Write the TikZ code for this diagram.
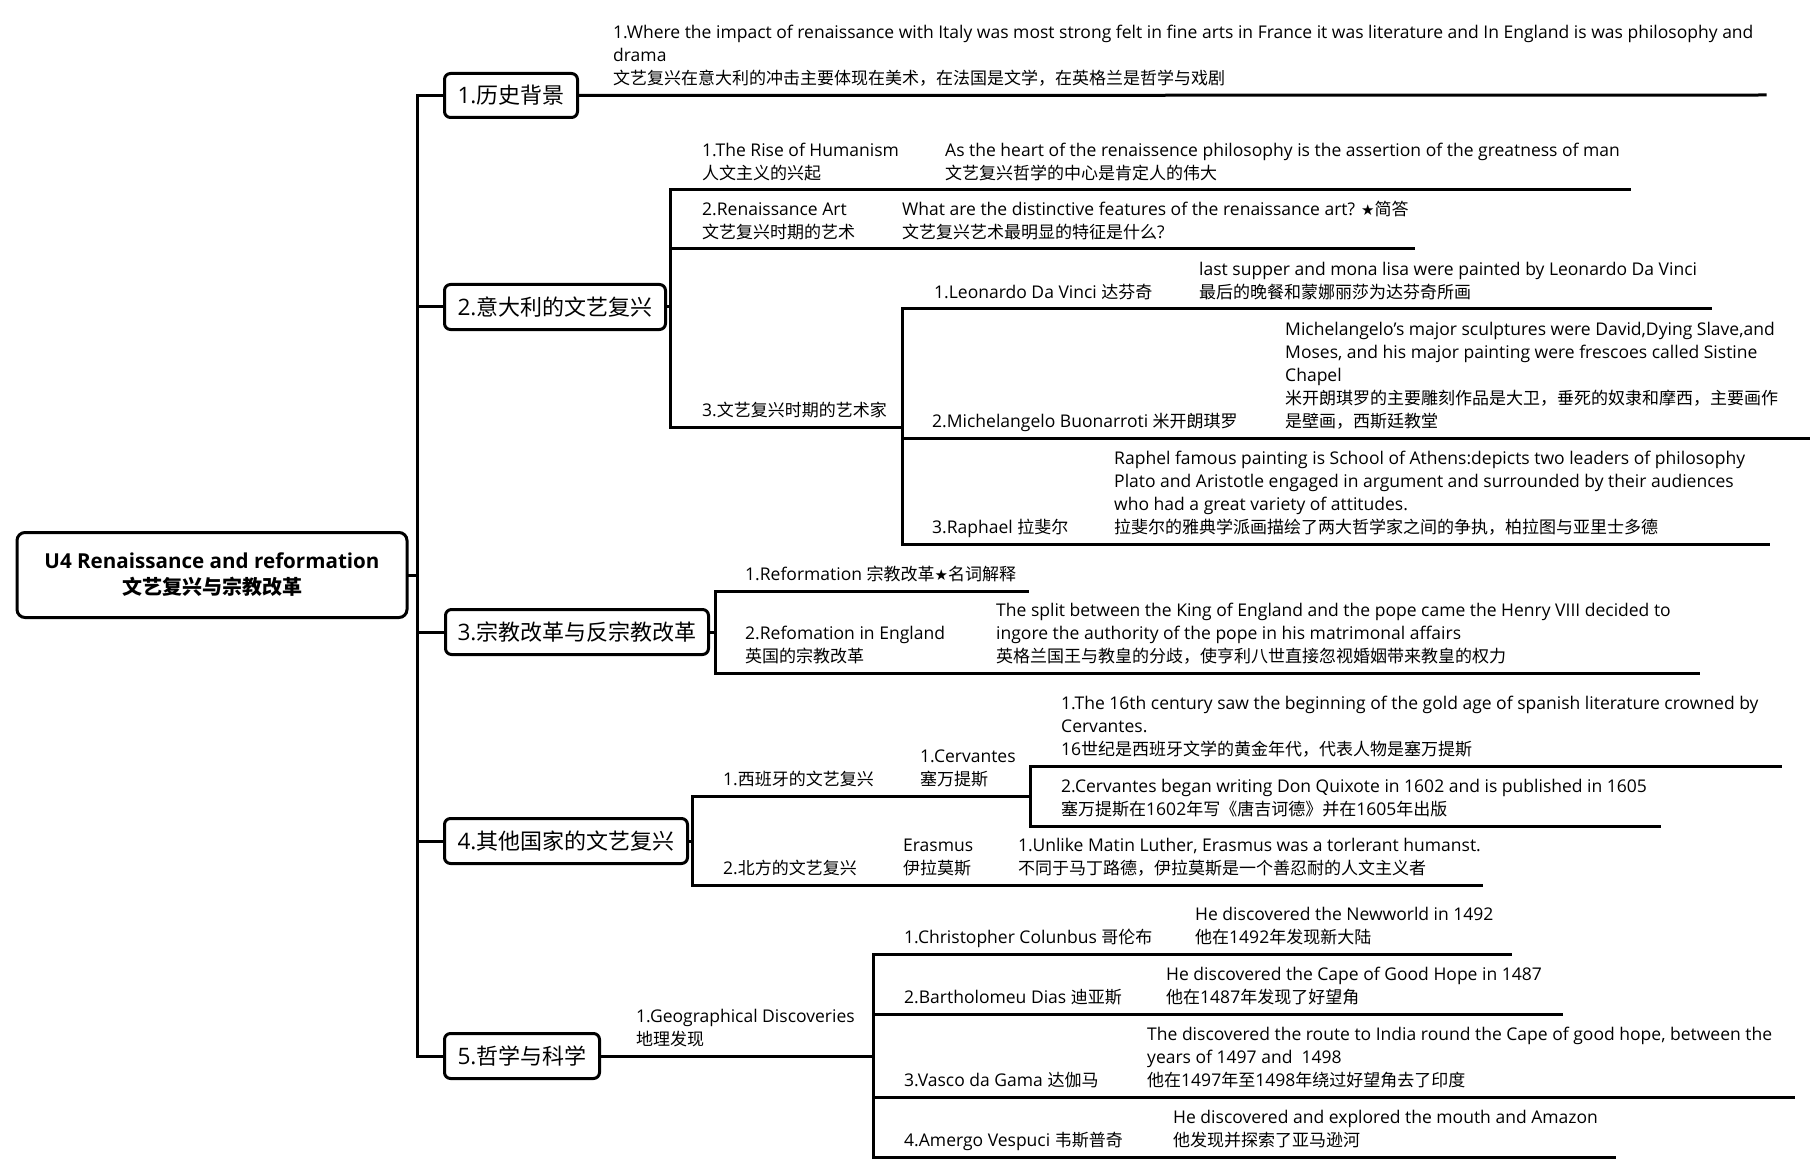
\documentclass[tikz,border=0pt]{standalone}
\usepackage{fontspec}
\setmainfont{Open Sans}[Scale=1.03]
\newfontfamily\cjkfont{Noto Sans CJK SC}
\newfontfamily\symfont{DejaVu Sans}
\XeTeXinterchartokenstate=1
\newXeTeXintercharclass\CJKcls
\newcount\cjkc
\cjkc="4E00 \loop\XeTeXcharclass\cjkc=\CJKcls\advance\cjkc by 1 \ifnum\cjkc<"A000 \repeat
\cjkc="3000 \loop\XeTeXcharclass\cjkc=\CJKcls\advance\cjkc by 1 \ifnum\cjkc<"3040 \repeat
\cjkc="FF00 \loop\XeTeXcharclass\cjkc=\CJKcls\advance\cjkc by 1 \ifnum\cjkc<"FFF0 \repeat
\XeTeXinterchartoks 0 \CJKcls = {\cjkfont}
\XeTeXinterchartoks 4095 \CJKcls = {\cjkfont}
\XeTeXinterchartoks \CJKcls 0 = {\rmfamily}
\XeTeXinterchartoks \CJKcls 4095 = {\rmfamily}
\newcommand\bstar{{\symfont\fontsize{15}{15}\selectfont ★}}
\tikzset{
  ln/.style={line width=3pt, line cap=rect},
  topic/.style={draw, line width=3pt, rounded corners=6pt, inner sep=0pt,
    font=\fontsize{22}{26}\selectfont, align=center},
  rootbox/.style={draw, line width=3pt, rounded corners=8pt, inner sep=0pt,
    font=\bfseries\fontsize{20}{26}\selectfont, align=center},
  txt/.style={anchor=south west, inner sep=0pt, align=left,
    font=\fontsize{17}{23}\selectfont,
    execute at end node={\rule[-5pt]{0pt}{5pt}}},
}
\begin{document}
\begin{tikzpicture}[x=1pt,y=-1pt]
\useasboundingbox[fill=white] (0,0) rectangle (1815,1174);

% root and main topics
\node[rootbox, minimum width=390pt, minimum height=85pt] (root) at (212,575)
  {U4 Renaissance and reformation\\文艺复兴与宗教改革};
\node[topic, minimum width=133pt, minimum height=44pt] (b1) at (511,95.5) {1.历史背景};
\node[topic, minimum width=221pt, minimum height=45pt] (b2) at (555,307) {2.意大利的文艺复兴};
\node[topic, minimum width=263pt, minimum height=45pt] (b3) at (577,632) {3.宗教改革与反宗教改革};
\node[topic, minimum width=243pt, minimum height=45pt] (b4) at (566,841) {4.其他国家的文艺复兴};
\node[topic, minimum width=155pt, minimum height=45pt] (b5) at (522,1056) {5.哲学与科学};

\coordinate (spT) at (417,95.5);
\coordinate (spB) at (417,1056);
\draw[ln] (spT) -- (spB);
\draw[ln] (root.east) -- (root.east -| spT);
\foreach \b in {b1,b2,b3,b4,b5} \draw[ln] (\b.west) -- (\b.west -| spT);

% 1 history
\node[txt] (t1) at (613,90) {1.Where the impact of renaissance with Italy was most strong felt in fine arts in France it was literature and In England is was philosophy and\\drama\\文艺复兴在意大利的冲击主要体现在美术，在法国是文学，在英格兰是哲学与戏剧};
\coordinate (e1) at (1765,95);
\draw[ln] (b1.east) -- (e1);

% 2 Italy
\coordinate (v2a) at (670,190);
\coordinate (v2m) at (670,249);
\coordinate (v2b) at (670,427);
\draw[ln] (b2.east) -- (b2.east -| v2a);
\draw[ln] (v2a) -- (v2b);

\node[txt] (t21) at (702,185) {1.The Rise of Humanism\\人文主义的兴起};
\node[txt] (t211) at (945,185) {As the heart of the renaissence philosophy is the assertion of the greatness of man\\文艺复兴哲学的中心是肯定人的伟大};
\coordinate (j21) at (930,190);
\coordinate (e211) at (1629,190);
\draw[ln] (v2a) -- (j21);
\draw[ln] (j21) -- (e211);

\node[txt] (t22) at (702,244) {2.Renaissance Art\\文艺复兴时期的艺术};
\node[txt] (t221) at (902,244) {What are the distinctive features of the renaissance art? \bstar 简答\\文艺复兴艺术最明显的特征是什么?};
\coordinate (j22) at (890,249);
\coordinate (e221) at (1413,249);
\draw[ln] (v2m) -- (j22);
\draw[ln] (j22) -- (e221);

\node[txt] (t23) at (702,422) {3.文艺复兴时期的艺术家};
\coordinate (v3a) at (902,309);
\coordinate (v3m) at (902,438);
\coordinate (v3b) at (902,544);
\draw[ln] (v2b) -- (v2b -| v3a);
\draw[ln] (v3a) -- (v3b);

\node[txt] (t231) at (934,304) {1.Leonardo Da Vinci 达芬奇};
\node[txt] (t2311) at (1199,304) {last supper and mona lisa were painted by Leonardo Da Vinci\\最后的晚餐和蒙娜丽莎为达芬奇所画};
\coordinate (j231) at (1185,309);
\coordinate (e2311) at (1710,309);
\draw[ln] (v3a) -- (j231);
\draw[ln] (j231) -- (e2311);

\node[txt] (t232) at (932,433) {2.Michelangelo Buonarroti 米开朗琪罗};
\node[txt] (t2321) at (1285,433) {Michelangelo's major sculptures were David,Dying Slave,and\\Moses, and his major painting were frescoes called Sistine\\Chapel\\米开朗琪罗的主要雕刻作品是大卫，垂死的奴隶和摩西，主要画作\\是壁画，西斯廷教堂};
\coordinate (j232) at (1270,438);
\coordinate (e2321) at (1808,438);
\draw[ln] (v3m) -- (j232);
\draw[ln] (j232) -- (e2321);

\node[txt] (t233) at (932,539) {3.Raphael 拉斐尔};
\node[txt] (t2331) at (1114,539) {Raphel famous painting is School of Athens:depicts two leaders of philosophy\\Plato and Aristotle engaged in argument and surrounded by their audiences\\who had a great variety of attitudes.\\拉斐尔的雅典学派画描绘了两大哲学家之间的争执，柏拉图与亚里士多德};
\coordinate (j233) at (1100,544);
\coordinate (e2331) at (1768,544);
\draw[ln] (v3b) -- (j233);
\draw[ln] (j233) -- (e2331);

% 3 Reformation
\coordinate (v4a) at (715,591);
\coordinate (v4b) at (715,673);
\draw[ln] (b3.east) -- (b3.east -| v4a);
\draw[ln] (v4a) -- (v4b);

\node[txt] (t31) at (745,586) {1.Reformation 宗教改革\bstar 名词解释};
\coordinate (e31) at (1027,591);
\draw[ln] (v4a) -- (e31);

\node[txt] (t32) at (745,668) {2.Refomation in England\\英国的宗教改革};
\node[txt] (t321) at (996,668) {The split between the King of England and the pope came the Henry VIII decided to\\ingore the authority of the pope in his matrimonal affairs\\英格兰国王与教皇的分歧，使亨利八世直接忽视婚姻带来教皇的权力};
\coordinate (j32) at (980,673);
\coordinate (e321) at (1698,673);
\draw[ln] (v4b) -- (j32);
\draw[ln] (j32) -- (e321);

% 4 other countries
\coordinate (v5a) at (692,796);
\coordinate (v5b) at (692,885);
\draw[ln] (b4.east) -- (b4.east -| v5a);
\draw[ln] (v5a) -- (v5b);

\node[txt] (t41) at (723,791) {1.西班牙的文艺复兴};
\node[txt] (t411) at (920,791) {1.Cervantes\\塞万提斯};
\coordinate (j41) at (905,796);
\coordinate (j411) at (1030,796);
\draw[ln] (v5a) -- (j41);
\draw[ln] (j41) -- (j411);

\coordinate (v6a) at (1030,766);
\coordinate (v6b) at (1030,826);
\draw[ln] (v6a) -- (v6b);
\node[txt] (t4111) at (1061,761) {1.The 16th century saw the beginning of the gold age of spanish literature crowned by\\Cervantes.\\16世纪是西班牙文学的黄金年代，代表人物是塞万提斯};
\coordinate (e4111) at (1780,766);
\draw[ln] (v6a) -- (e4111);
\node[txt] (t4112) at (1061,821) {2.Cervantes began writing Don Quixote in 1602 and is published in 1605\\塞万提斯在1602年写《唐吉诃德》并在1605年出版};
\coordinate (e4112) at (1659,826);
\draw[ln] (v6b) -- (e4112);

\node[txt] (t42) at (723,880) {2.北方的文艺复兴};
\node[txt] (t421) at (903,880) {Erasmus\\伊拉莫斯};
\node[txt] (t4211) at (1018,880) {1.Unlike Matin Luther, Erasmus was a torlerant humanst.\\不同于马丁路德，伊拉莫斯是一个善忍耐的人文主义者};
\coordinate (j42) at (890,885);
\coordinate (j421) at (1005,885);
\coordinate (e4211) at (1481,885);
\draw[ln] (v5b) -- (j42);
\draw[ln] (j42) -- (j421);
\draw[ln] (j421) -- (e4211);

% 5 philosophy and science
\node[txt] (t51) at (636,1051) {1.Geographical Discoveries\\地理发现};
\coordinate (j51) at (873,1056);
\draw[ln] (b5.east) -- (j51);
\coordinate (v7a) at (873,954);
\coordinate (v7m1) at (873,1014);
\coordinate (v7m2) at (873,1097);
\coordinate (v7b) at (873,1157);
\draw[ln] (v7a) -- (v7b);

\node[txt] (t511) at (904,949) {1.Christopher Colunbus 哥伦布};
\node[txt] (t5111) at (1195,949) {He discovered the Newworld in 1492\\他在1492年发现新大陆};
\coordinate (j511) at (1180,954);
\coordinate (e5111) at (1510,954);
\draw[ln] (v7a) -- (j511);
\draw[ln] (j511) -- (e5111);

\node[txt] (t512) at (904,1009) {2.Bartholomeu Dias 迪亚斯};
\node[txt] (t5121) at (1166,1009) {He discovered the Cape of Good Hope in 1487\\他在1487年发现了好望角};
\coordinate (j512) at (1150,1014);
\coordinate (e5121) at (1561,1014);
\draw[ln] (v7m1) -- (j512);
\draw[ln] (j512) -- (e5121);

\node[txt] (t513) at (904,1092) {3.Vasco da Gama 达伽马};
\node[txt] (t5131) at (1147,1092) {The discovered the route to India round the Cape of good hope, between the\\years of 1497 and~~1498\\他在1497年至1498年绕过好望角去了印度};
\coordinate (j513) at (1135,1097);
\coordinate (e5131) at (1793,1097);
\draw[ln] (v7m2) -- (j513);
\draw[ln] (j513) -- (e5131);

\node[txt] (t514) at (904,1152) {4.Amergo Vespuci 韦斯普奇};
\node[txt] (t5141) at (1173,1152) {He discovered and explored the mouth and Amazon\\他发现并探索了亚马逊河};
\coordinate (j514) at (1160,1157);
\coordinate (e5141) at (1614,1157);
\draw[ln] (v7b) -- (j514);
\draw[ln] (j514) -- (e5141);
\end{tikzpicture}
\end{document}
